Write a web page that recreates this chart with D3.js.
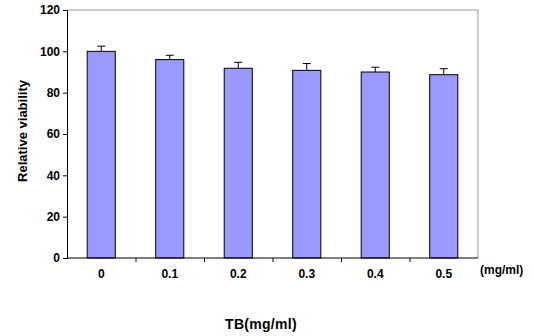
<!DOCTYPE html>
<html><head><meta charset="utf-8">
<script src="https://d3js.org/d3.v7.min.js"></script>
<style>body{margin:0;background:#fff}text{font-family:"Liberation Sans",Arial,sans-serif;font-weight:bold}</style>
</head><body><svg id="c" width="534" height="336"></svg>
<script>
const categories = ["0","0.1","0.2","0.3","0.4","0.5"];
const values = [100, 96, 91.8, 90.8, 90, 88.7];
const errors = [2.5, 2.1, 2.9, 3.3, 2.3, 2.9];
const yTicks = [0,20,40,60,80,100,120];

const svg = d3.select("#c");
const L=67, R=478, T=10, B=258;
const x = d3.scaleBand().domain(categories).range([L,R]).paddingInner(0.59).paddingOuter(0.295);
const y = d3.scaleLinear().domain([0,120]).range([B,T]);

// frame top/right gray
svg.append("path").attr("d",`M${L},${T}H${R}V${B}`).attr("fill","none").attr("stroke","#999").attr("stroke-width",1);

// bars
svg.selectAll("rect.bar").data(values).join("rect").attr("class","bar")
 .attr("x",(d,i)=>x(categories[i])).attr("width",x.bandwidth())
 .attr("y",d=>y(d)).attr("height",d=>B-y(d))
 .attr("fill","#9999FF").attr("stroke","#000").attr("stroke-width",1);

// error bars
const eg = svg.append("g").attr("stroke","#000").attr("stroke-width",1);
values.forEach((v,i)=>{
  const cx = x(categories[i])+x.bandwidth()/2;
  eg.append("line").attr("x1",cx).attr("x2",cx).attr("y1",y(v)).attr("y2",y(v+errors[i]));
  eg.append("line").attr("x1",cx-4).attr("x2",cx+4).attr("y1",y(v+errors[i])).attr("y2",y(v+errors[i]));
});

// y axis
const ya = svg.append("g").attr("transform",`translate(${L},0)`)
 .call(d3.axisLeft(y).tickValues(yTicks).tickSize(4).tickPadding(3));
ya.select(".domain").attr("stroke","#000");
ya.selectAll("text").attr("font-size",12).attr("font-family","Liberation Sans, Arial").attr("font-weight","bold").attr("fill","#000");

// x axis
const xb = d3.scaleLinear().domain([0,6]).range([L,R]);
const xa = svg.append("g").attr("transform",`translate(0,${B})`)
 .call(d3.axisBottom(xb).tickValues([1,2,3,4,5]).tickSize(4).tickFormat(""));
xa.select(".domain").attr("d",`M${L},0H${R}`).attr("stroke","#000");
svg.selectAll("text.xl").data(categories).join("text").attr("class","xl")
 .attr("x",d=>x(d)+x.bandwidth()/2).attr("y",278).attr("text-anchor","middle")
 .attr("font-size",12).text(d=>d);

svg.append("text").attr("x",480).attr("y",274).attr("font-size",12).text("(mg/ml)");
svg.append("text").attr("x",261).attr("y",329).attr("text-anchor","middle").attr("font-size",14).attr("letter-spacing",0.3).text("TB(mg/ml)");
svg.append("text").attr("transform","translate(27,131) rotate(-90)").attr("text-anchor","middle").attr("font-size",13).text("Relative viability");
</script></body></html>
